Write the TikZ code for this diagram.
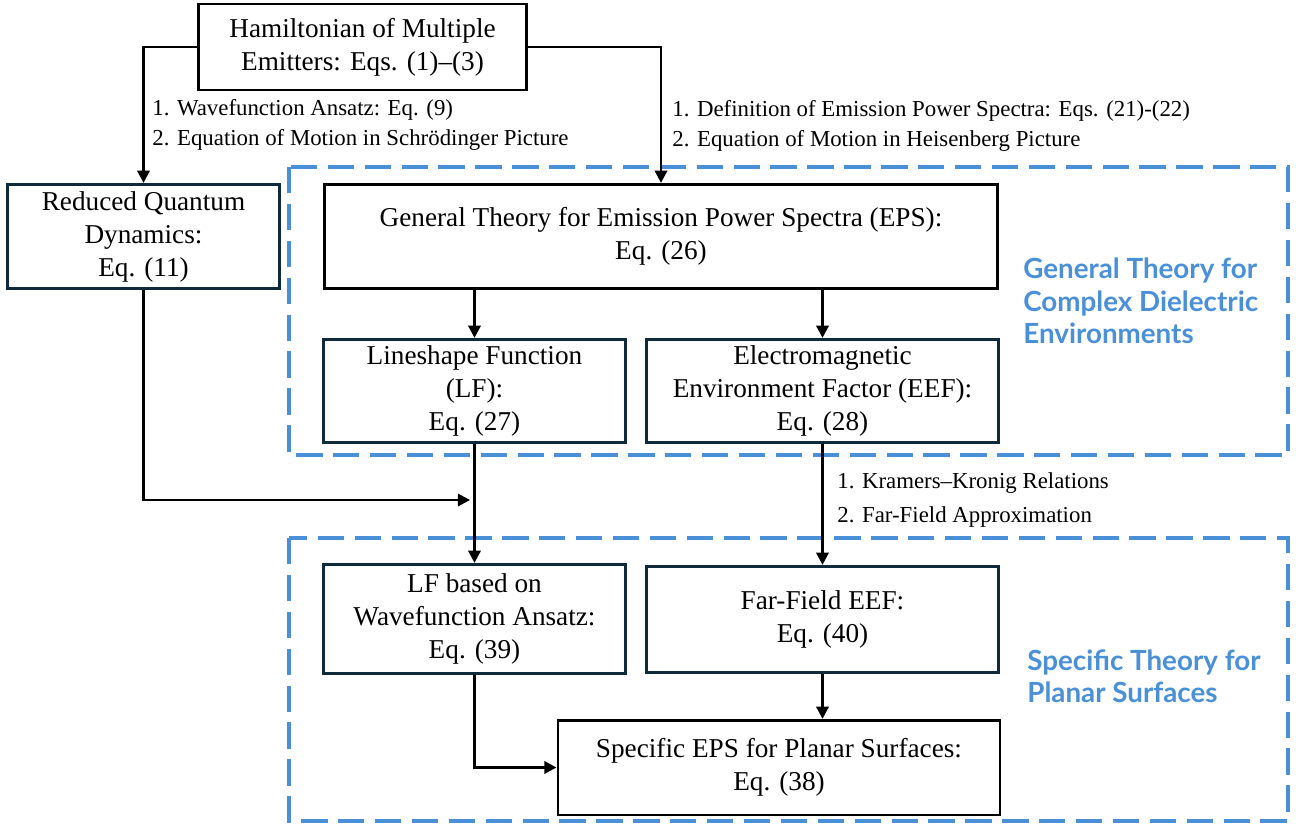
\documentclass[tikz,border=0pt]{standalone}
\usepackage{fontspec}
\setmainfont{Liberation Serif}
\newfontfamily\headfont{Lato}
\usetikzlibrary{arrows.meta}
\definecolor{frameblue}{HTML}{4A90D9}
\definecolor{navy}{HTML}{0E2A3B}

\begin{document}
\begin{tikzpicture}[x=0.02cm,y=-0.02cm,
  box/.style={draw=black, line width=1.5pt, align=center, inner sep=0pt, font=\fontsize{15.5}{18.8}\selectfont},
  nbox/.style={box, draw=navy},
  wh/.style 2 args={minimum width=#1*0.5669pt, minimum height=#2*0.5669pt},
  arr/.style={-{Triangle[length=7pt,width=7pt]}, line width=1.5pt},
  lbl/.style={align=left, anchor=west, inner sep=0pt, font=\fontsize{13}{17}\selectfont},
  dashbox/.style={draw=frameblue, line width=2pt, dash pattern=on 15pt off 6pt},
  head/.style={align=left, anchor=west, inner sep=0pt, text=frameblue, font=\headfont\bfseries\fontsize{15.8}{18.4}\selectfont}]
\useasboundingbox (0,0) rectangle (1296,825);

% dashed groups
\draw[dashbox] (289,167) rectangle (1288,455);
\draw[dashbox] (289,538) rectangle (1288,821);
\node[head](hgen) at (1023,301) {General Theory for\\Complex Dielectric\\Environments};
\node[head](hspec) at (1027,676) {Specific Theory for\\Planar Surfaces};

% boxes
\node[box, wh={329}{86}](ham) at (362.5,47) {Hamiltonian of Multiple\\Emitters: Eqs. (1)--(3)};
\node[nbox, wh={273}{105}](red) at (143.5,236.5) {Reduced Quantum\\Dynamics:\\Eq. (11)};
\node[box, wh={676}{105}](eps) at (661,236.5) {General Theory for Emission Power Spectra (EPS):\\Eq. (26)};
\node[nbox, wh={303}{104}](lf) at (474.5,391) {Lineshape Function\\(LF):\\Eq. (27)};
\node[nbox, wh={353}{104}](eef) at (822.5,391) {Electromagnetic\\Environment Factor (EEF):\\Eq. (28)};
\node[nbox, wh={303}{110}](lfw) at (474.5,619) {LF based on\\Wavefunction Ansatz:\\Eq. (39)};
\node[nbox, wh={353}{107}](ffe) at (822.5,619.5) {Far-Field EEF:\\Eq. (40)};
\node[box, wh={444}{95}](spe) at (779,767.5) {Specific EPS for Planar Surfaces:\\Eq. (38)};

% step labels
\node[lbl](lblsch) at (152,125) {1. Wavefunction Ansatz: Eq. (9)\\2. Equation of Motion in Schrödinger Picture};
\node[lbl](lblhei) at (672,126) {1. Definition of Emission Power Spectra: Eqs. (21)-(22)\\2. Equation of Motion in Heisenberg Picture};
\node[lbl, font=\fontsize{13}{19.5}\selectfont](lblkk) at (837,500) {1. Kramers--Kronig Relations\\2. Far-Field Approximation};

% connectors
\coordinate (jn) at (474.5,500);
\draw[arr] (ham.west) -| (red.north);
\draw[arr] (ham.east) -| (eps.north);
\draw[arr] (eps.south -| lf.north) -- (lf.north);
\draw[arr] (eps.south -| eef.north) -- (eef.north);
\draw[arr] (lf.south) -- (lfw.north);
\draw[arr, shorten >=2.5pt] (red.south) |- (jn);
\draw[arr] (eef.south) -- (ffe.north);
\draw[arr] (ffe.south) -- (ffe.south |- spe.north);
\draw[arr] (lfw.south) |- (spe.west);
\end{tikzpicture}
\end{document}
